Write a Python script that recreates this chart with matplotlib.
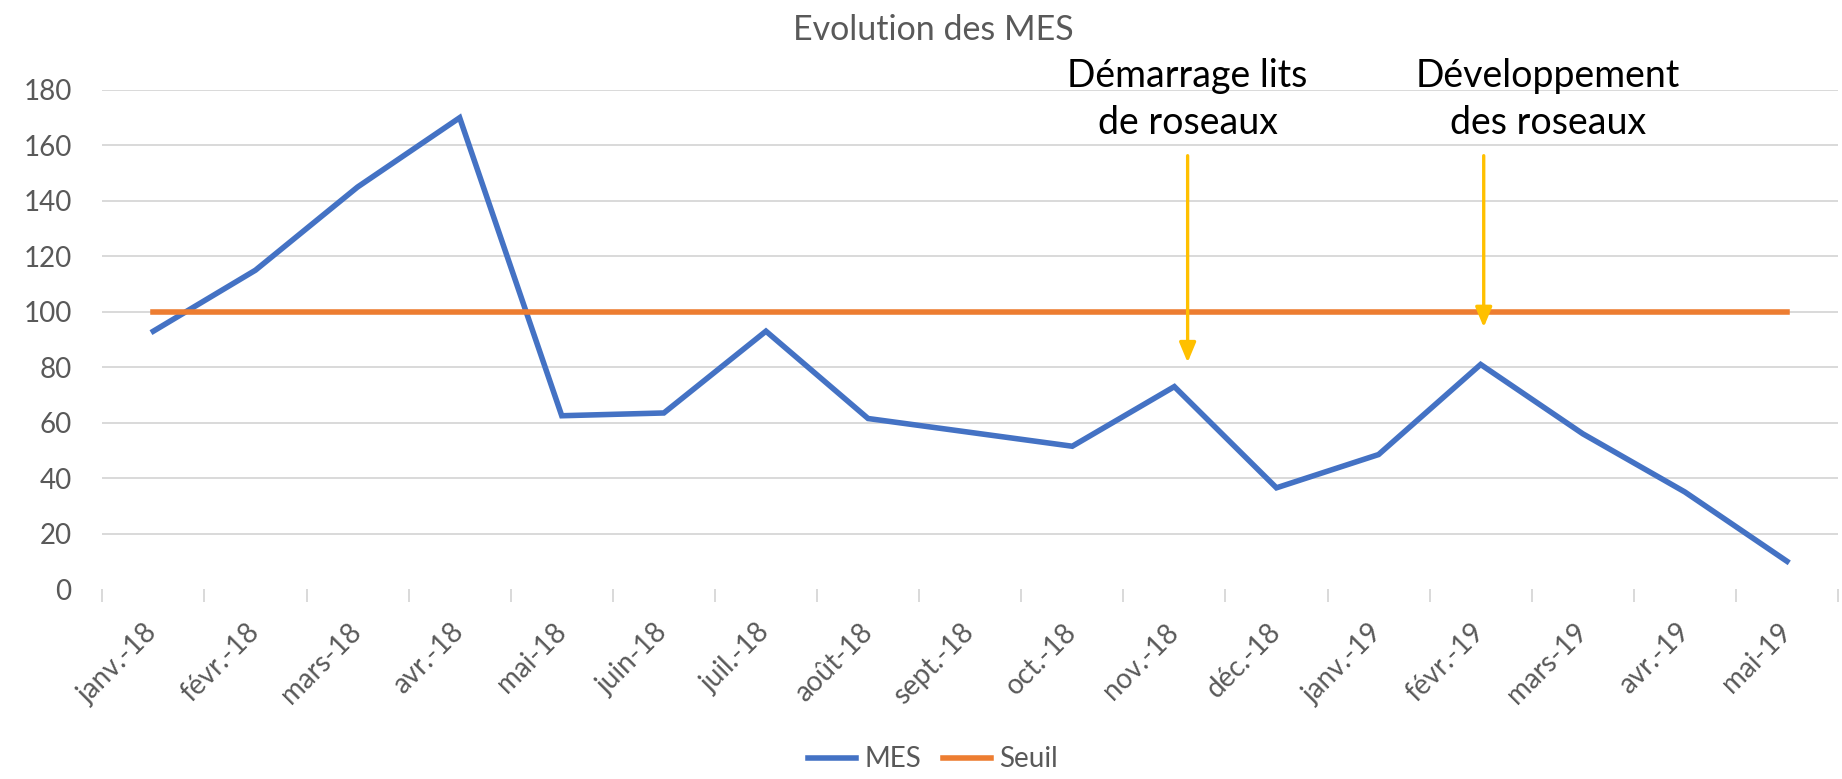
import matplotlib
matplotlib.use("Agg")
import matplotlib.pyplot as plt
import numpy as np

plt.rcParams['font.family'] = ['Lato', 'DejaVu Sans']

# data
mois = ["janv.-18", "févr.-18", "mars-18", "avr.-18", "mai-18", "juin-18",
        "juil.-18", "août-18", "sept.-18", "oct.-18", "nov.-18", "déc.-18",
        "janv.-19", "févr.-19", "mars-19", "avr.-19", "mai-19"]
mes = [93, 115, 145, 170, 62.5, 63.5, 93, 61.5, 56.5, 51.5, 73, 36.5,
       48.5, 81, 56, 35, 10]
seuil = [100] * len(mois)

# annotations: (x position in category units, tip value, text lines)
evenements = [
    (10.13, 81.7, ["Démarrage lits", "de roseaux"]),
    (13.03, 94.4, ["Développement", "des roseaux"]),
]
texte_x = [10.13, 13.66]

BLEU = '#4472C4'
ORANGE = '#ED7D31'
JAUNE = '#FFC000'
GRIS = '#595959'

fig = plt.figure(figsize=(18.42, 7.79), dpi=100)
ax = fig.add_axes([0.05554, 0.2439, 0.99783 - 0.05554, 0.88447 - 0.2439])

x = np.arange(len(mois))
ax.plot(x, mes, color=BLEU, lw=4, label="MES", solid_joinstyle='miter')
ax.plot(x, seuil, color=ORANGE, lw=4, label="Seuil")

ax.set_xlim(-0.5, len(mois) - 0.5)
ax.set_ylim(0, 180)
ax.set_yticks(np.arange(0, 181, 20))
ax.grid(axis='y', color='#D9D9D9', lw=1.4)
ax.set_axisbelow(True)
ax.get_ygridlines()[0].set_visible(False)
for s in ax.spines.values():
    s.set_visible(False)

ax.set_xticks(x)
ax.set_xticklabels(mois, rotation=45, ha='right', rotation_mode='anchor',
                   va='center', fontsize=20, color=GRIS)
ax.set_xticks(np.arange(-0.5, len(mois)), minor=True)
ax.tick_params(axis='x', which='major', length=0, pad=28)
ax.tick_params(axis='x', which='minor', length=9, width=1.4, color='#D9D9D9')
ax.tick_params(axis='y', length=0, pad=22, labelsize=20, labelcolor=GRIS)

# flèches + textes
for (xa, tip, lignes), xt in zip(evenements, texte_x):
    ax.annotate('', xy=(xa, tip), xytext=(xa, 156.3),
                arrowprops=dict(arrowstyle='-|>,head_length=0.6,head_width=0.25',
                                color=JAUNE, lw=2.4, mutation_scale=20,
                                shrinkA=0, shrinkB=0))
    for k, ligne in enumerate(lignes):
        ax.text(xt, 181.2 - k * 17.2, ligne, ha='center', va='baseline',
                fontsize=27, color='black', clip_on=False)

fig.text(0.5065, 1 - 40 / 779, "Evolution des MES", ha='center', va='baseline',
         fontsize=24.5, color=GRIS)
fig.legend(loc='center', bbox_to_anchor=(0.5065, 0.0253), ncol=2, frameon=False,
           fontsize=20, handlelength=1.73, handletextpad=0.3, columnspacing=0.8,
           labelcolor=GRIS)

fig.savefig("out.png", dpi=100)
